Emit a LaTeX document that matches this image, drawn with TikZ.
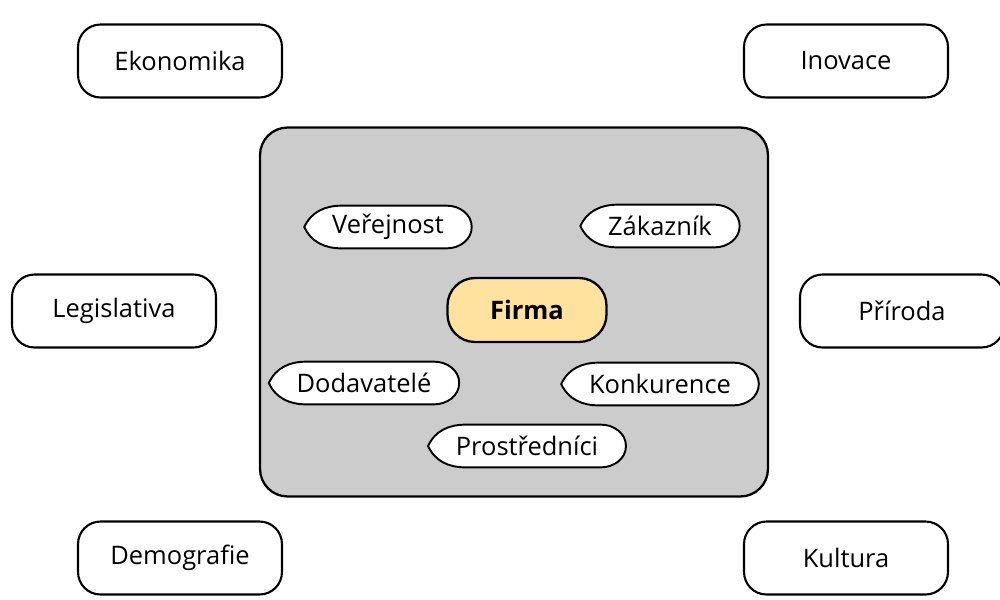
\documentclass[tikz,border=0pt]{standalone}
\usepackage{fontspec}
\setmainfont{Open Sans}
\usepackage{tikz}
\usetikzlibrary{positioning}
\definecolor{panel-grey}{HTML}{CCCCCC}
\definecolor{firm-yellow}{HTML}{FFE29D}
\pgfdeclarelayer{background}
\pgfsetlayers{background,main}

\begin{document}
\begin{tikzpicture}[x=0.02cm, y=-0.02cm,
    outer/.style={draw, line width=1.2pt, rounded corners=0.45cm, fill=white,
                  minimum width=4.08cm, minimum height=1.46cm},
    inner/.style={inner xsep=0.55cm, inner ysep=0pt, minimum height=0.84cm},
    lens/.style={draw, line width=1.1pt, fill=white},
    every node/.style={font=\fontsize{14.5}{17}\selectfont}]

    \useasboundingbox (0,0) rectangle (1000,599);

    % macro environment
    \begin{scope}[every node/.append style={outer}]
        \node (eko) at (180,61) {Ekonomika};
        \node (ino) at (846,61) {Inovace};
        \node (leg) at (114,311) {Legislativa};
        \node (pri) at (902,311) {Příroda};
        \node (dem) at (180,558) {Demografie};
        \node (kul) at (846,558) {Kultura};
    \end{scope}

    % micro environment
    \begin{pgfonlayer}{background}
        \node[draw, line width=1.3pt, fill=panel-grey, rounded corners=0.55cm,
              minimum width=10.16cm, minimum height=7.38cm] (env) at (514,312) {};
    \end{pgfonlayer}

    \node[draw, line width=1.3pt, fill=firm-yellow, rounded corners=0.55cm,
          minimum width=3.18cm, minimum height=1.28cm,
          font=\fontsize{14.5}{17}\selectfont\bfseries] (firma) at (527,310) {Firma};

    \begin{scope}[every node/.append style={inner}]
        \node (ver) at (388,227) {Veřejnost};
        \node (zak) at (660,226) {Zákazník};
        \node (dod) at (364,383) {Dodavatelé};
        \node (kon) at (660,384) {Konkurence};
        \node (pro) at (527,446) {Prostředníci};
    \end{scope}

    % lens outlines
    \begin{pgfonlayer}{background}
        \foreach \n in {ver,zak,dod,kon,pro} {
            \draw[lens] (\n.west) to[out=65,in=180] ([xshift=0.75cm]\n.north west)
                -- ([xshift=-0.5cm]\n.north east)
                to[out=0,in=90] (\n.east)
                to[out=-90,in=0] ([xshift=-0.5cm]\n.south east)
                -- ([xshift=0.75cm]\n.south west)
                to[out=180,in=-65] (\n.west) -- cycle;
        }
    \end{pgfonlayer}

\end{tikzpicture}
\end{document}
